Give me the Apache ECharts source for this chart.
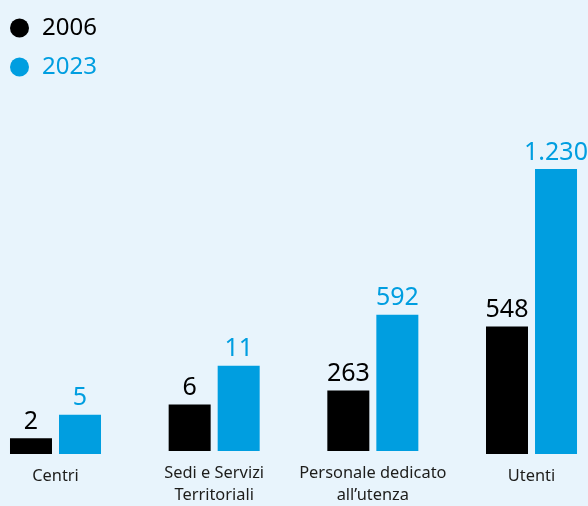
<!DOCTYPE html>
<html>
<head>
<meta charset="utf-8">
<script src="https://cdn.jsdelivr.net/npm/echarts@6/dist/echarts.min.js"></script>
<style>
  html, body { margin: 0; padding: 0; background: #e8f4fc; }
  #chart { width: 588px; height: 506px; }
</style>
</head>
<body>
<div id="chart"></div>
<script>
// dati
const categories = ['Centri', 'Sedi e Servizi\nTerritoriali', 'Personale dedicato\nall\u2019utenza', 'Utenti'];
const years = ['2006', '2023'];
const values2006 = [2, 6, 263, 548];
const values2023 = [5, 11, 592, 1230];
// ogni gruppo ha la sua scala (come nell'originale)
const scaleMax = [36.4, 36.4, 1225, 1225];

const BLACK = '#000000';
const BLUE = '#009ee0';
const FONT = '"Noto Sans", sans-serif';

const chart = echarts.init(document.getElementById('chart'));

const grids = [];
const xAxes = [];
const yAxes = [];
const series = [];

categories.forEach((cat, i) => {
    const center = 55.5 + i * 158.67;
    grids.push({ left: center - 50, width: 100, top: 169, bottom: 52 });
    xAxes.push({
        type: 'category',
        gridIndex: i,
        data: [cat],
        axisLine: { show: false },
        axisTick: { show: false },
        axisLabel: {
            color: '#1d1d1b',
            fontFamily: FONT,
            fontSize: 16.4,
            lineHeight: 22,
            margin: 11,
            interval: 0
        }
    });
    yAxes.push({
        type: 'value',
        gridIndex: i,
        min: 0,
        max: scaleMax[i],
        show: false,
        splitLine: { show: false }
    });
    [values2006, values2023].forEach((vals, k) => {
        const color = k === 0 ? BLACK : BLUE;
        series.push({
            name: years[k],
            type: 'bar',
            xAxisIndex: i,
            yAxisIndex: i,
            data: [vals[i]],
            barWidth: 42,
            barGap: '16.7%',
            itemStyle: { color: color },
            label: {
                show: true,
                position: 'top',
                distance: 4,
                color: color,
                fontFamily: FONT,
                fontSize: 25,
                formatter: p => p.value.toLocaleString('it-IT')
            },
            silent: true
        });
    });
});

chart.setOption({
    backgroundColor: '#e8f4fc',
    animation: false,
    legend: {
        orient: 'vertical',
        left: 5,
        top: 11,
        icon: 'circle',
        itemWidth: 19,
        itemHeight: 19,
        itemGap: 15,
        selectedMode: false,
        textStyle: { fontFamily: FONT, fontSize: 24, padding: [0, 0, 0, 8] },
        data: [
            { name: '2006', textStyle: { color: BLACK } },
            { name: '2023', textStyle: { color: BLUE } }
        ]
    },
    grid: grids,
    xAxis: xAxes,
    yAxis: yAxes,
    series: series
});
</script>
</body>
</html>
